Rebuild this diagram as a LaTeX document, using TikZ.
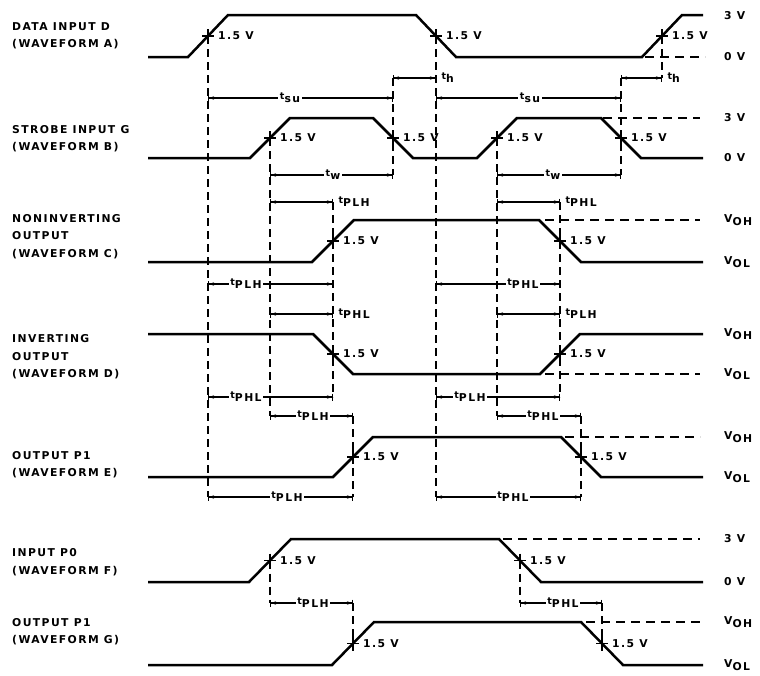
\documentclass[tikz,border=0pt]{standalone}
\usepackage{fontspec}
\setmainfont{DejaVu Sans}[LetterSpace=13]
\usetikzlibrary{arrows.meta}
\newcommand\tsb[2]{{\fontsize{9.5}{9.5}\selectfont #1}\raisebox{-3pt}{#2}}
\newcommand\vsb[2]{#1\raisebox{-3.5pt}{#2}}
\tikzset{
 x=1pt, y=-1pt,
 wave/.style={line width=2.5pt, line join=miter},
 refl/.style={line width=1.2pt, dash pattern=on 9pt off 6pt},
 vline/.style={line width=1.1pt, dash pattern=on 8pt off 5pt},
 dim/.style={line width=1.1pt, {Bar[width=7pt] Stealth[length=5pt,width=3.5pt]}-{Stealth[length=5pt,width=3.5pt] Bar[width=7pt]}},
 lbl/.style={font=\fontsize{10.8}{17.5}\selectfont\bfseries, align=left, anchor=west, inner sep=0pt},
 txt/.style={font=\fontsize{10.8}{12}\selectfont\bfseries, inner sep=1pt},
 volt/.style={txt, anchor=west},
 inl/.style={txt, fill=white, inner sep=1.5pt},
 tick/.style={line width=1.5pt},
}
\begin{document}
\begin{tikzpicture}
\useasboundingbox (0,0) rectangle (760,675);
% left labels
\node[lbl] (la) at (12,36) {DATA INPUT D\\(WAVEFORM A)};
\node[lbl] (lb) at (12,138.5) {STROBE INPUT G\\(WAVEFORM B)};
\node[lbl] (lc) at (12,236.5) {NONINVERTING\\OUTPUT\\(WAVEFORM C)};
\node[lbl] (ld) at (12,357) {INVERTING\\OUTPUT\\(WAVEFORM D)};
\node[lbl] (le) at (12,464.5) {OUTPUT P1\\(WAVEFORM E)};
\node[lbl] (lf) at (12,562) {INPUT P0\\(WAVEFORM F)};
\node[lbl] (lg) at (12,631.5) {OUTPUT P1\\(WAVEFORM G)};
% crossing coordinates
\coordinate (A1) at (208,36);  \coordinate (A2) at (436,36);  \coordinate (A3) at (662,36);
\coordinate (B1) at (270,138); \coordinate (B2) at (393,138); \coordinate (B3) at (497,138); \coordinate (B4) at (621,138);
\coordinate (C1) at (333,241); \coordinate (C2) at (560,241);
\coordinate (D1) at (333,354); \coordinate (D2) at (560,354);
\coordinate (E1) at (353,457); \coordinate (E2) at (581,457);
\coordinate (F1) at (270,560.5); \coordinate (F2) at (520,560.5);
\coordinate (G1) at (353,643.5); \coordinate (G2) at (602,643.5);
% reference dashed lines
\draw[refl] (645,57) -- (705,57);
\draw[refl] (603,118) -- (700,118);
\draw[refl] (545,220) -- (700,220);
\draw[refl] (545,374) -- (700,374);
\draw[refl] (565,437) -- (700,437);
\draw[refl] (503,539) -- (700,539);
\draw[refl] (586,622) -- (700,622);
% vertical dashed lines
\draw[vline] (A1) -- (208,497);
\draw[vline] (A2) -- (436,497);
\draw[vline] (A3) -- (662,78);
\draw[vline] (393,78) -- (393,175);
\draw[vline] (621,78) -- (621,175);
\draw[vline] (B1) -- (270,416);
\draw[vline] (B3) -- (497,416);
\draw[vline] (333,202) -- (333,397);
\draw[vline] (560,202) -- (560,397);
\draw[vline] (353,416) -- (353,497);
\draw[vline] (581,416) -- (581,497);
\draw[vline] (F1) -- (270,603);
\draw[vline] (353,603) -- (G1);
\draw[vline] (F2) -- (520,603);
\draw[vline] (602,603) -- (G2);
% waveforms
\draw[wave] (148,57) -- (188,57) -- (228,15) -- (416,15) -- (456,57) -- (642,57) -- (682,15) -- (703,15);
\draw[wave] (148,158) -- (250,158) -- (290,118) -- (373,118) -- (413,158) -- (477,158) -- (517,118) -- (601,118) -- (641,158) -- (703,158);
\draw[wave] (148,262) -- (312,262) -- (354,220) -- (539,220) -- (581,262) -- (703,262);
\draw[wave] (148,334) -- (313,334) -- (353,374) -- (540,374) -- (580,334) -- (703,334);
\draw[wave] (148,477) -- (333,477) -- (373,437) -- (561,437) -- (601,477) -- (703,477);
\draw[wave] (148,582) -- (249,582) -- (291,539) -- (499,539) -- (541,582) -- (703,582);
\draw[wave] (148,665) -- (332,665) -- (374,622) -- (581,622) -- (623,665) -- (703,665);
% crossing marks and 1.5 V labels
\foreach \c in {A1,A2,A3,B1,B2,B3,B4,C1,C2,D1,D2,E1,E2,F1,F2,G1,G2}{
  \draw[tick] (\c) +(-6,0) -- +(6,0);
  \draw[tick] (\c) +(0,-7) -- +(0,7);
  \node[volt] at ([xshift=9pt]\c) {1.5 V};
}
% right voltage labels
\node[volt] (va1) at (723,16) {3 V};
\node[volt] (va0) at (723,57) {0 V};
\node[volt] (vb1) at (723,118) {3 V};
\node[volt] (vb0) at (723,158) {0 V};
\node[volt] (vc1) at (723,220) {\vsb{V}{OH}};
\node[volt] (vc0) at (723,262) {\vsb{V}{OL}};
\node[volt] (vd1) at (723,334) {\vsb{V}{OH}};
\node[volt] (vd0) at (723,374) {\vsb{V}{OL}};
\node[volt] (ve1) at (723,437) {\vsb{V}{OH}};
\node[volt] (ve0) at (723,477) {\vsb{V}{OL}};
\node[volt] (vf1) at (723,539) {3 V};
\node[volt] (vf0) at (723,582) {0 V};
\node[volt] (vg1) at (723,622) {\vsb{V}{OH}};
\node[volt] (vg0) at (723,665) {\vsb{V}{OL}};
% dimension lines
\draw[dim] (393,78) -- (436,78) node[volt, right=4pt] {\tsb{t}{h}};
\draw[dim] (621,78) -- (662,78) node[volt, right=4pt] {\tsb{t}{h}};
\draw[dim] (208,98) -- (393,98);  \node[inl] at (290,98) {\tsb{t}{su}};
\draw[dim] (436,98) -- (621,98);  \node[inl] at (530,98) {\tsb{t}{su}};
\draw[dim] (270,175) -- (393,175); \node[inl] at (333,175) {\tsb{t}{w}};
\draw[dim] (497,175) -- (621,175); \node[inl] at (553,175) {\tsb{t}{w}};
\draw[dim] (270,202) -- (333,202) node[volt, right=4pt] {\tsb{t}{PLH}};
\draw[dim] (497,202) -- (560,202) node[volt, right=4pt] {\tsb{t}{PHL}};
\draw[dim] (208,284) -- (333,284); \node[inl] at (246,284) {\tsb{t}{PLH}};
\draw[dim] (436,284) -- (560,284); \node[inl] at (523,284) {\tsb{t}{PHL}};
\draw[dim] (270,314) -- (333,314) node[volt, right=4pt] {\tsb{t}{PHL}};
\draw[dim] (497,314) -- (560,314) node[volt, right=4pt] {\tsb{t}{PLH}};
\draw[dim] (208,397) -- (333,397); \node[inl] at (246,397) {\tsb{t}{PHL}};
\draw[dim] (436,397) -- (560,397); \node[inl] at (470,397) {\tsb{t}{PLH}};
\draw[dim] (270,416) -- (353,416); \node[inl] at (313,416) {\tsb{t}{PLH}};
\draw[dim] (497,416) -- (581,416); \node[inl] at (543,416) {\tsb{t}{PHL}};
\draw[dim] (208,497) -- (353,497); \node[inl] at (287,497) {\tsb{t}{PLH}};
\draw[dim] (436,497) -- (581,497); \node[inl] at (513,497) {\tsb{t}{PHL}};
\draw[dim] (270,603) -- (353,603); \node[inl] at (313,603) {\tsb{t}{PLH}};
\draw[dim] (520,603) -- (602,603); \node[inl] at (563,603) {\tsb{t}{PHL}};
\end{tikzpicture}
\end{document}
